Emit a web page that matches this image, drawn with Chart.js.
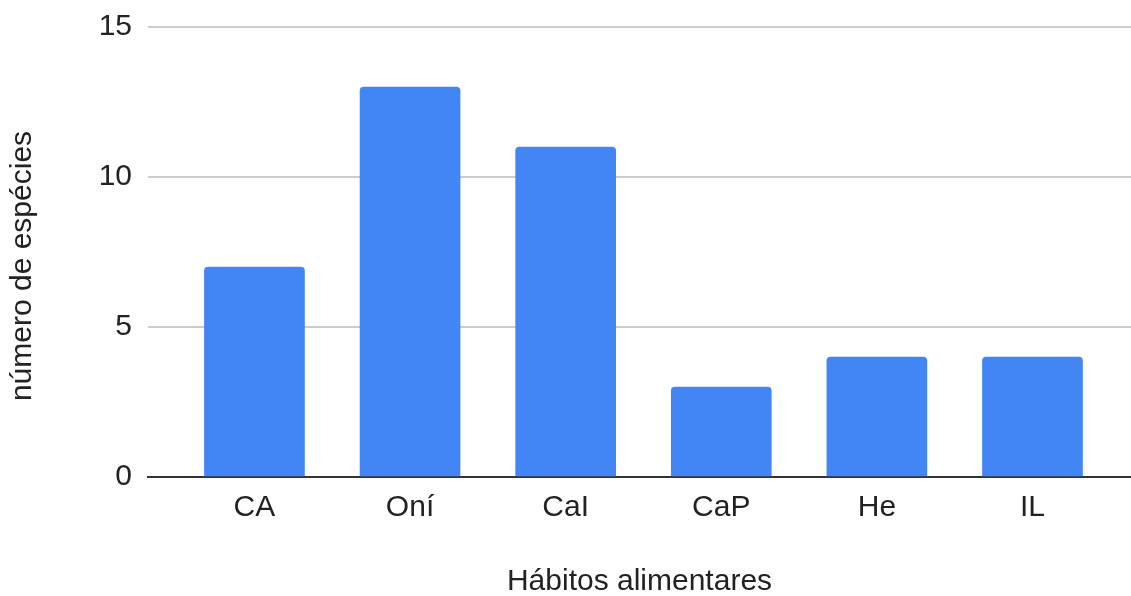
<!DOCTYPE html>
<html>
<head>
<meta charset="utf-8">
<script src="https://cdn.jsdelivr.net/npm/chart.js@4"></script>
<style>
  html, body { margin: 0; padding: 0; background: #fff; }
  #wrap { width: 1131px; height: 596px; }
</style>
</head>
<body>
<div id="wrap"><canvas id="chart"></canvas></div>
<script>
// Feeding habits and species counts
const categories = ['CA', 'Oní', 'CaI', 'CaP', 'He', 'IL'];
const speciesCounts = [7, 13, 11, 3, 4, 4];
const yTicks = [0, 5, 10, 15];
const xTitle = 'Hábitos alimentares';
const yTitle = 'número de espécies';

const FONT = "'Liberation Sans', Arial, sans-serif";
const TEXT = '#222222';
const SIZE = 30;

const points = categories.map((c, i) => ({ x: i, y: speciesCounts[i] }));

// Vertical axis title, drawn a little below the plot's middle
const yTitlePlugin = {
  id: 'yTitle',
  afterDraw(chart) {
    const { ctx, chartArea } = chart;
    ctx.save();
    ctx.translate(23, (chartArea.top + chartArea.bottom) / 2 + 14);
    ctx.rotate(-Math.PI / 2);
    ctx.font = `${SIZE}px ${FONT}`;
    ctx.fillStyle = TEXT;
    ctx.textAlign = 'center';
    ctx.textBaseline = 'middle';
    ctx.fillText(yTitle, 0, 0);
    ctx.restore();
  }
};

new Chart(document.getElementById('chart'), {
  type: 'bar',
  data: {
    datasets: [{
      data: points,
      backgroundColor: '#4285f4',
      borderWidth: 0,
      borderRadius: { topLeft: 4, topRight: 4, bottomLeft: 0, bottomRight: 0 },
      borderSkipped: false,
      barThickness: 100
    }]
  },
  plugins: [yTitlePlugin],
  options: {
    responsive: true,
    maintainAspectRatio: false,
    animation: false,
    layout: { padding: { top: 27, right: 0, bottom: 0, left: 0 } },
    plugins: { legend: { display: false }, tooltip: { enabled: false } },
    scales: {
      x: {
        type: 'linear',
        offset: false,
        min: -0.684,
        max: 5.633,
        afterBuildTicks: s => { s.ticks = categories.map((c, i) => ({ value: i })); },
        afterFit: s => { s.height = 119; s.paddingLeft = 0; s.paddingRight = 0; },
        grid: { display: false, drawTicks: false },
        border: { display: true, color: '#333333', width: 2 },
        ticks: {
          callback: v => categories[v],
          color: TEXT,
          font: { family: FONT, size: SIZE },
          padding: 13,
          maxRotation: 0,
          autoSkip: false
        },
        title: {
          display: true,
          text: xTitle,
          color: TEXT,
          font: { family: FONT, size: SIZE, lineHeight: 1 },
          padding: { top: 0, bottom: -1 }
        }
      },
      y: {
        min: 0,
        max: 15,
        afterBuildTicks: s => { s.ticks = yTicks.map(v => ({ value: v })); },
        afterFit: s => { s.width = 148; s.paddingTop = 0; s.paddingBottom = 0; },
        grid: { color: '#cccccc', lineWidth: 2, drawTicks: false },
        border: { display: false },
        ticks: {
          color: TEXT,
          font: { family: FONT, size: SIZE },
          padding: 16
        },
        title: { display: false }
      }
    }
  }
});
</script>
</body>
</html>
